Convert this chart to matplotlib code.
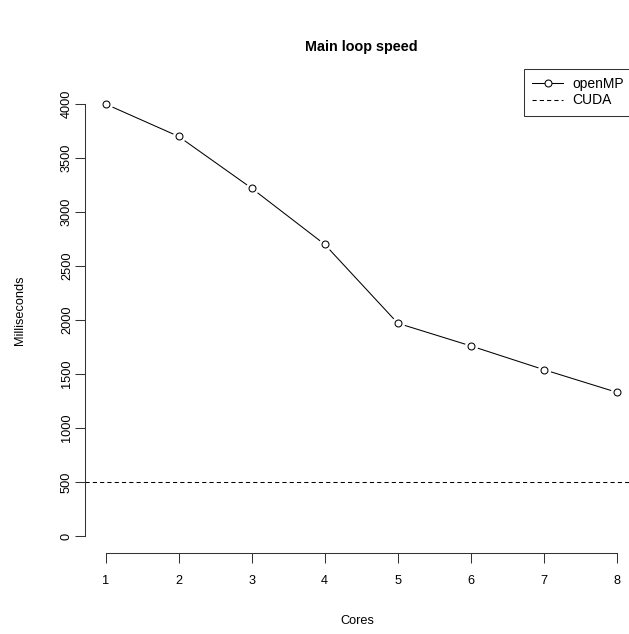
import matplotlib
matplotlib.use('Agg')
import matplotlib.pyplot as plt
from matplotlib.lines import Line2D

# data
cores = [1, 2, 3, 4, 5, 6, 7, 8]
openmp_ms = [4000, 3700, 3220, 2700, 1970, 1760, 1540, 1330]
cuda_ms = 500
y_ticks = [0, 500, 1000, 1500, 2000, 2500, 3000, 3500, 4000]

plt.rcParams['font.family'] = ['Liberation Sans', 'DejaVu Sans']

W, H = 629, 634
fig = plt.figure(figsize=(W / 100, H / 100), dpi=100)

# plot region in pixels (R style layout)
left, right, top, bottom = 85, 629, 68, 553
ax = fig.add_axes([left / W, 1 - bottom / H, (right - left) / W, (bottom - top) / H])

px_x = (617 - 105.5) / 7.0
px_y = (536 - 104) / 4000.0
ax.set_xlim(1 - (105.5 - left) / px_x, 8 + (right - 617) / px_x)
ax.set_ylim(0 - (bottom - 536) / px_y, 4000 + (104 - top) / px_y)

# openMP line with gaps round the points (type = "b")
lw = 0.75
ax.plot(cores, openmp_ms, color='black', lw=lw, zorder=1)
ax.plot(cores, openmp_ms, 'o', ms=5.5, mfc='white', mec='white', mew=4, zorder=2)
ax.plot(cores, openmp_ms, 'o', ms=5, mfc='white', mec='black', mew=0.75, zorder=3)

ax.axhline(cuda_ms, color='black', lw=lw, ls=(0, (4, 3)))

for s in ['top', 'right']:
    ax.spines[s].set_visible(False)
ax.spines['left'].set_bounds(0, 4000)
ax.spines['bottom'].set_bounds(1, 8)
for s in ['left', 'bottom']:
    ax.spines[s].set_linewidth(lw)
    ax.spines[s].set_color('#333333')

ax.set_xticks(cores)
ax.set_yticks(y_ticks)
ax.set_yticklabels([str(v) for v in y_ticks], rotation=90, va='center')
ax.tick_params(direction='out', length=7.2, width=lw, color='#333333',
               labelsize=9.2)
ax.tick_params(axis='x', pad=9)
ax.tick_params(axis='y', pad=1.5)

ax.set_xlabel('Cores', fontsize=9.2, labelpad=20)
ax.set_ylabel('Milliseconds', fontsize=9.2, labelpad=25)
fig.text(361 / W, 1 - 47 / H, 'Main loop speed', ha='center', va='center',
         fontsize=10.4, fontweight='bold')

handles = [
    Line2D([], [], color='black', lw=lw, marker='o', ms=5, mfc='white', mec='black', mew=0.75),
    Line2D([], [], color='black', lw=lw, ls=(0, (4, 3))),
]
leg = fig.legend(handles, ['openMP', 'CUDA'], loc='upper left',
                 bbox_to_anchor=(524 / W, 1 - 69 / H), fontsize=10,
                 frameon=True, fancybox=False, edgecolor='black',
                 handlelength=2.2, handletextpad=0.7, borderpad=0.6,
                 borderaxespad=0, labelspacing=0.15)
leg.get_frame().set_linewidth(lw)

fig.savefig('out.png', dpi=100)
